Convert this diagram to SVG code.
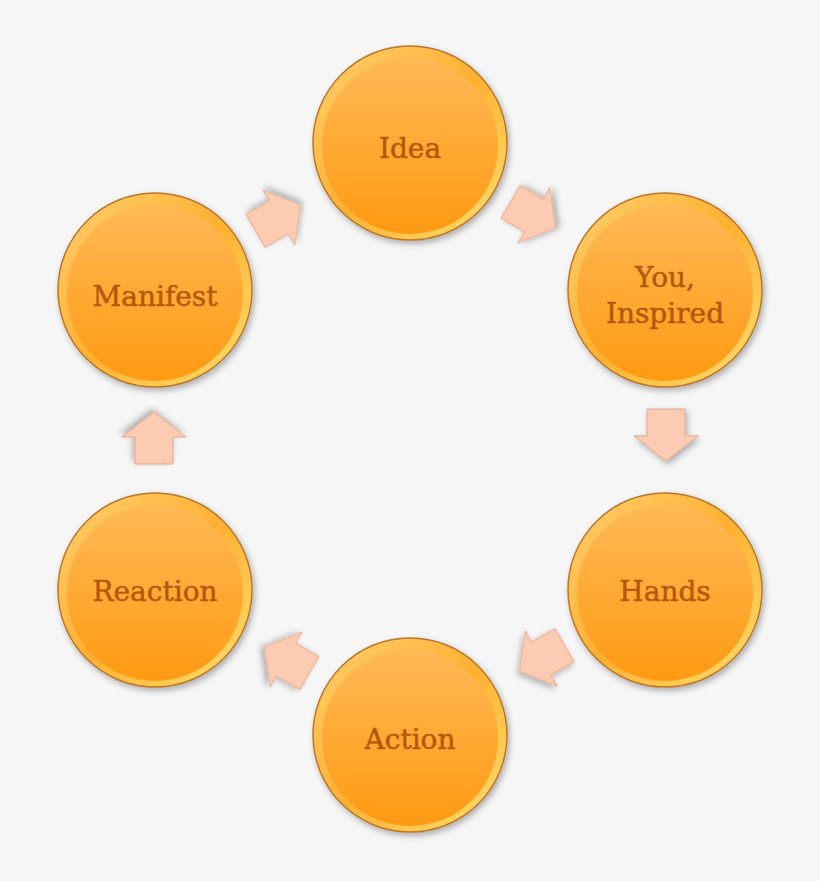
<svg xmlns="http://www.w3.org/2000/svg" width="820" height="881" viewBox="0 0 820 881">
<defs>
<linearGradient id="g" x1="0" y1="0" x2="0" y2="1"><stop offset="0" stop-color="#ffb956"/><stop offset="1" stop-color="#ff9a12"/></linearGradient>
<linearGradient id="rim" x1="0" y1="0" x2="1" y2="1"><stop offset="0" stop-color="#ffd070"/><stop offset="0.5" stop-color="#ffb030"/><stop offset="1" stop-color="#ffe070"/></linearGradient>
<filter id="sh" x="-20%" y="-20%" width="140%" height="140%"><feDropShadow dx="2" dy="3" stdDeviation="3" flood-color="#000" flood-opacity="0.3"/></filter>
<path id="arr" d="M-19,-26 H19 V1 H32 L0,26 L-32,1 H-19 Z"/>
</defs>
<style>
.c{fill:url(#rim);stroke:#b8772a;stroke-width:1.5;filter:url(#sh)}
.ci{fill:url(#g)}
.t{font-family:"DejaVu Serif","Liberation Serif",serif;font-size:28px;fill:#b5580c;stroke:#b5580c;stroke-width:0.5;text-anchor:middle}
.a{fill:#fdcbb2;stroke:#e0a890;stroke-width:1;filter:url(#sh)}
</style>
<rect width="820" height="881" fill="#f6f6f6"/>
<g id="connectors">
<use href="#arr" class="a" transform="translate(533,215) rotate(-60)"/>
<use href="#arr" class="a" transform="translate(666,435)"/>
<use href="#arr" class="a" transform="translate(542,658) rotate(60)"/>
<use href="#arr" class="a" transform="translate(287,660) rotate(120)"/>
<use href="#arr" class="a" transform="translate(154,438) rotate(180)"/>
<use href="#arr" class="a" transform="translate(278,218) rotate(-120)"/>
</g>
<g id="idea"><circle class="c" cx="410" cy="143" r="97"/><circle class="ci" cx="410" cy="146" r="88"/><text class="t" x="410" y="158">Idea</text></g>
<g id="you"><circle class="c" cx="665" cy="290" r="97"/><circle class="ci" cx="665" cy="293" r="88"/><text class="t" x="665" y="287">You,</text><text class="t" x="665" y="323">Inspired</text></g>
<g id="hands"><circle class="c" cx="665" cy="590" r="97"/><circle class="ci" cx="665" cy="593" r="88"/><text class="t" x="665" y="601">Hands</text></g>
<g id="action"><circle class="c" cx="410" cy="735" r="97"/><circle class="ci" cx="410" cy="738" r="88"/><text class="t" x="410" y="749">Action</text></g>
<g id="reaction"><circle class="c" cx="155" cy="590" r="97"/><circle class="ci" cx="155" cy="593" r="88"/><text class="t" x="155" y="601">Reaction</text></g>
<g id="manifest"><circle class="c" cx="155" cy="290" r="97"/><circle class="ci" cx="155" cy="293" r="88"/><text class="t" x="155" y="306">Manifest</text></g>
</svg>
